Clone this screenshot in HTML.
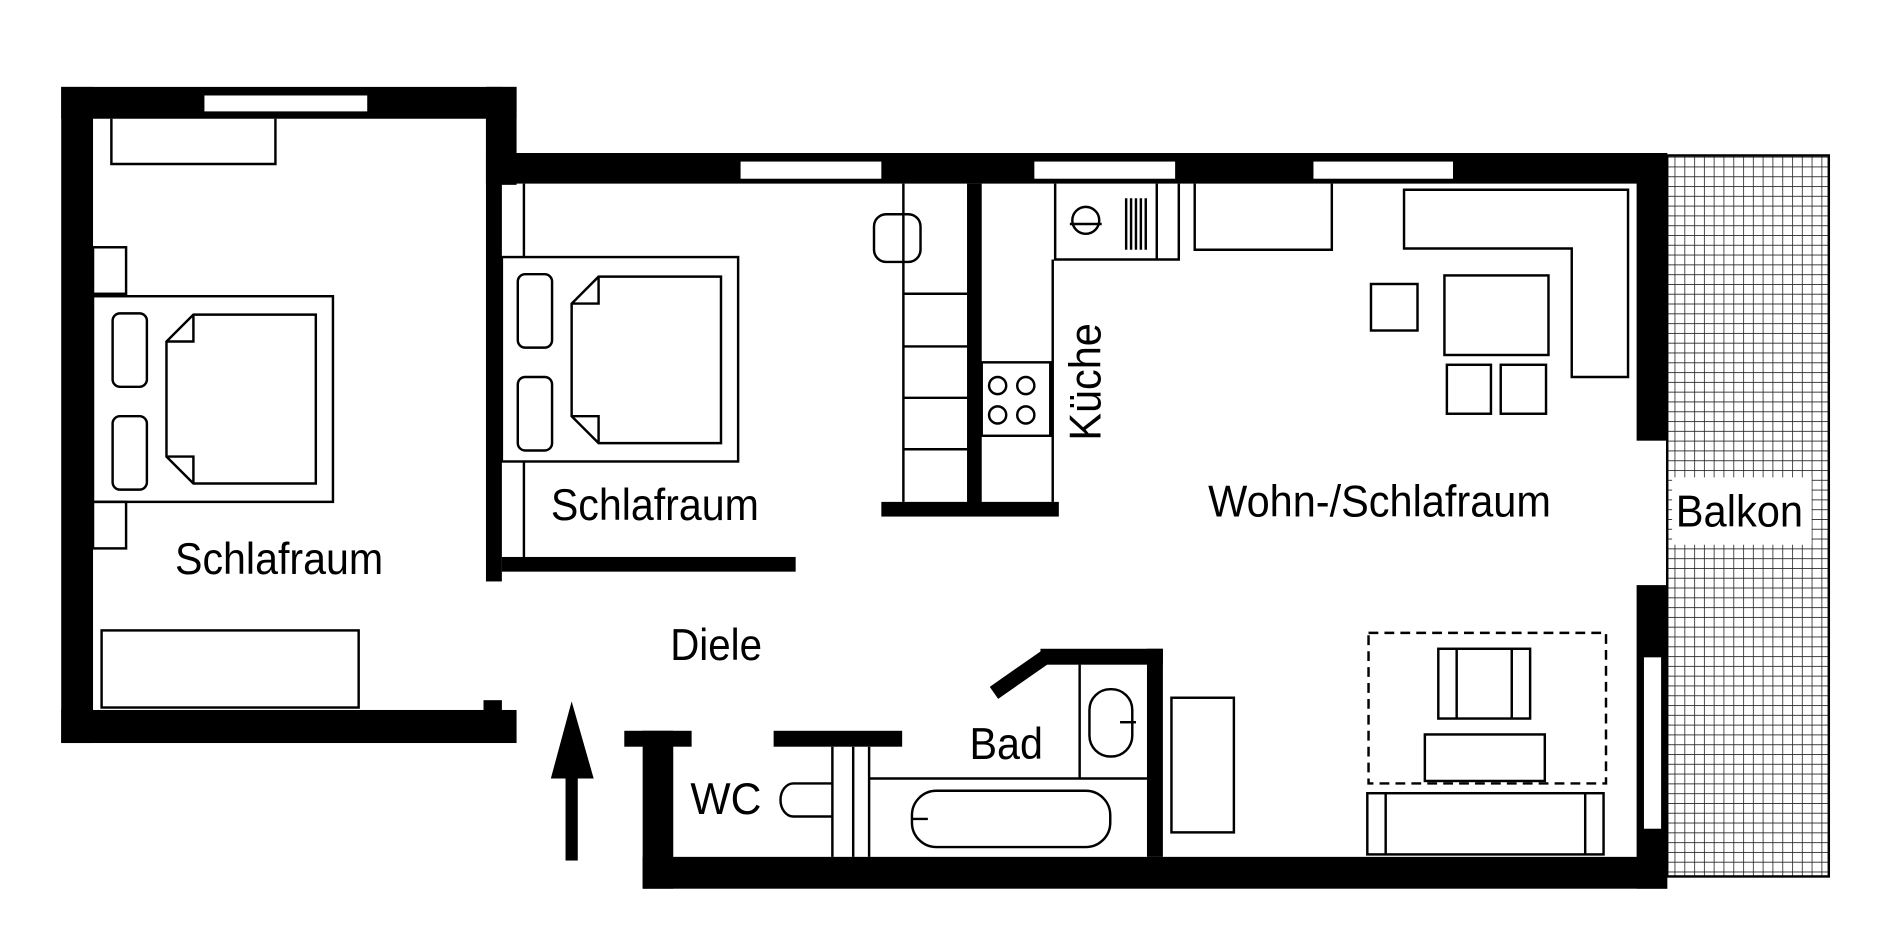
<!DOCTYPE html>
<html><head><style>html,body{margin:0;padding:0;background:#fff}svg{display:block}</style></head>
<body>
<svg width="1890" height="945" viewBox="0 0 1544 772" preserveAspectRatio="none" xmlns="http://www.w3.org/2000/svg">
<defs>
<pattern id="g" width="8" height="8" patternUnits="userSpaceOnUse">
<path d="M0 0H8M0 0V8" stroke="#222" stroke-width="1.3" fill="none"/>
</pattern>
</defs>
<rect width="1544" height="772" fill="#fff"/>
<rect x="1362" y="127" width="132" height="589" fill="url(#g)" stroke="#000" stroke-width="2"/>
<rect x="1366" y="390" width="114" height="55" fill="#fff"/>
<g fill="#000">
<rect x="50" y="71" width="372" height="26"/>
<rect x="50" y="71" width="26" height="536"/>
<rect x="50" y="580" width="372" height="27"/>
<rect x="395" y="572" width="15" height="10"/>
<rect x="397" y="71" width="25" height="80"/>
<rect x="397" y="71" width="13" height="404"/>
<rect x="397" y="125" width="965" height="25"/>
<rect x="1337" y="125" width="25" height="235"/>
<rect x="1337" y="478" width="25" height="248"/>
<rect x="525" y="700" width="837" height="26"/>
<rect x="525" y="597" width="25" height="129"/>
<rect x="510" y="597" width="55" height="13"/>
<rect x="632" y="597" width="105" height="13"/>
<rect x="937" y="530" width="13" height="170"/>
<rect x="850" y="530" width="100" height="13"/>
<rect x="410" y="455" width="240" height="12"/>
<rect x="790" y="150" width="12" height="270"/>
<rect x="720" y="410" width="145" height="12"/>
<rect x="462" y="620" width="10" height="83"/>
<polygon points="467,573 450,636 485,636"/>
</g>
<line x1="855" y1="536" x2="812" y2="566" stroke="#000" stroke-width="12"/>
<g fill="#fff">
<rect x="167" y="78" width="133" height="13"/>
<rect x="605" y="132" width="115" height="14"/>
<rect x="845" y="132" width="115" height="14"/>
<rect x="1073" y="132" width="114" height="14"/>
<rect x="1343" y="537" width="14" height="140"/>
</g>
<g fill="none" stroke="#000" stroke-width="2">
<path d="M91 97V134H225V97"/>
<rect x="76" y="202" width="27" height="38"/>
<rect x="76" y="410" width="27" height="38"/>
<rect x="76" y="242" width="196" height="168"/>
<rect x="92" y="256" width="28" height="60" rx="6"/>
<rect x="92" y="340" width="28" height="60" rx="6"/>
<path d="M158 257H258V395H158L136 373V279Z M158 257V279H136 M158 395V373H136"/>
<rect x="83" y="515" width="210" height="63"/>
<line x1="428" y1="150" x2="428" y2="455"/>
<rect x="410" y="210" width="193" height="167" fill="#fff"/>
<rect x="423" y="224" width="28" height="60" rx="6"/>
<rect x="423" y="308" width="28" height="60" rx="6"/>
<path d="M489 226H589V362H489L467 340V248Z M489 226V248H467 M489 362V340H467"/>
<path d="M738 150V410 M738 240H790 M738 283H790 M738 325H790 M738 367H790"/>
<rect x="714" y="175" width="38" height="39" rx="10"/>
<path d="M862 150V212H963V150 M945 150V212 M860 212V410"/>
<circle cx="887" cy="180" r="11"/>
<line x1="874" y1="183" x2="900" y2="183"/>
<rect x="802" y="296" width="56" height="60"/>
<circle cx="815" cy="315" r="7"/><circle cx="838" cy="315" r="7"/>
<circle cx="815" cy="339" r="7"/><circle cx="838" cy="339" r="7"/>
<path d="M976 150V204H1088V150"/>
<path d="M1147 155H1330V308H1284V203H1147Z"/>
<rect x="1180" y="225" width="85" height="65"/>
<rect x="1120" y="232" width="38" height="38"/>
<rect x="1182" y="298" width="36" height="40"/>
<rect x="1226" y="298" width="37" height="40"/>
<rect x="1118" y="517" width="194" height="123" stroke-dasharray="8,5"/>
<rect x="1175" y="530" width="75" height="57"/>
<path d="M1190 530V587M1235 530V587"/>
<rect x="1164" y="600" width="98" height="38"/>
<rect x="1117" y="648" width="193" height="50"/>
<path d="M1132 648V698M1295 648V698"/>
<path d="M882 543V636 M710 636H937 M710 610V700 M680 610V700 M697 610V700"/>
<rect x="890" y="563" width="35" height="55" rx="17"/>
<line x1="915" y1="590" x2="928" y2="590"/>
<rect x="745" y="646" width="162" height="46" rx="20"/>
<line x1="745" y1="669" x2="758" y2="669"/>
<rect x="957" y="570" width="51" height="110"/>
<path d="M680 640H648A10 13 0 0 0 648 667H680"/>
</g>
<path d="M920 162V204M924 162V204M928 162V204M932 162V204M936 162V204" stroke="#000" stroke-width="2"/>
<g font-family="'Liberation Sans',sans-serif" font-size="36" fill="#000" text-anchor="middle">
<text x="228" y="469" textLength="170" lengthAdjust="spacingAndGlyphs">Schlafraum</text>
<text x="535" y="425" textLength="170" lengthAdjust="spacingAndGlyphs">Schlafraum</text>
<text x="585" y="539" textLength="75" lengthAdjust="spacingAndGlyphs">Diele</text>
<text x="1127" y="422" textLength="280" lengthAdjust="spacingAndGlyphs">Wohn-/Schlafraum</text>
<text x="1421" y="430" textLength="104" lengthAdjust="spacingAndGlyphs">Balkon</text>
<text x="822" y="620" textLength="60" lengthAdjust="spacingAndGlyphs">Bad</text>
<text x="593" y="665" textLength="58" lengthAdjust="spacingAndGlyphs">WC</text>
<text transform="translate(899,312) rotate(-90)" textLength="96" lengthAdjust="spacingAndGlyphs">Küche</text>
</g>
</svg>
</body></html>
